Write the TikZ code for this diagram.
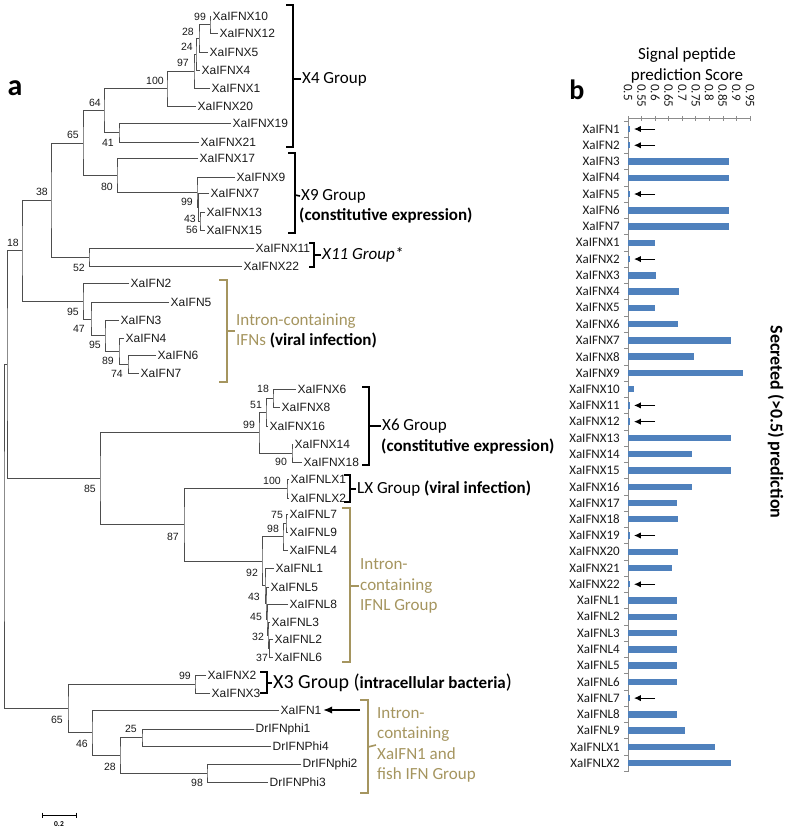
\documentclass[tikz,border=0pt]{standalone}
\usepackage{fontspec}
\setmainfont{Carlito}
\newfontfamily\treefont{Liberation Sans}
\usepackage{xcolor}
\usetikzlibrary{arrows.meta, positioning, calc}
\definecolor{ink}{HTML}{1A1A1A}
\definecolor{branch}{HTML}{4D4D4D}
\definecolor{olive}{HTML}{A5955F}
\definecolor{barblue}{HTML}{4F81BD}
\definecolor{axisgrey}{HTML}{8C8C8C}

\begin{document}
\begin{tikzpicture}[x=1pt, y=-1pt,
  tip/.style={anchor=west, inner sep=1.5pt, text=ink, font=\treefont\fontsize{12}{14}\selectfont},
  boot/.style={inner sep=0pt, text=ink, font=\treefont\fontsize{10.5}{12}\selectfont},
  br/.style={draw=branch, line width=0.9pt},
  brk/.style={draw=black, line width=1.6pt},
  gbrk/.style={draw=olive, line width=1.6pt},
  grp/.style={anchor=west, inner sep=1pt, align=left, font=\fontsize{17}{20.5}\selectfont},
  rowlab/.style={anchor=east, inner sep=1pt, text=ink, font=\fontsize{13}{14}\selectfont},
  >={Latex[length=2.0mm]}
]
\useasboundingbox (0,0) rectangle (787,831);

% ---- tree tips
\node[tip] (x10)  at (211,16)  {XaIFNX10};
\node[tip] (x12)  at (218,33)  {XaIFNX12};
\node[tip] (x5)   at (208,52)  {XaIFNX5};
\node[tip] (x4)   at (200,70)  {XaIFNX4};
\node[tip] (x1)   at (210,88)  {XaIFNX1};
\node[tip] (x20)  at (196,106) {XaIFNX20};
\node[tip] (x19)  at (231,123) {XaIFNX19};
\node[tip] (x21)  at (199,142) {XaIFNX21};
\node[tip] (x17)  at (198,158) {XaIFNX17};
\node[tip] (x9)   at (235,177) {XaIFNX9};
\node[tip] (x7)   at (209,193) {XaIFNX7};
\node[tip] (x13)  at (205,212) {XaIFNX13};
\node[tip] (x15)  at (205,230) {XaIFNX15};
\node[tip] (x11)  at (254,248) {XaIFNX11};
\node[tip] (x22)  at (242,266) {XaIFNX22};
\node[tip] (f2)   at (129,283) {XaIFN2};
\node[tip] (f5)   at (169,302) {XaIFN5};
\node[tip] (f3)   at (119,320) {XaIFN3};
\node[tip] (f4)   at (124,338) {XaIFN4};
\node[tip] (f6)   at (156,355) {XaIFN6};
\node[tip] (f7)   at (139,373) {XaIFN7};
\node[tip] (x6)   at (296,389) {XaIFNX6};
\node[tip] (x8)   at (280,407) {XaIFNX8};
\node[tip] (x16)  at (268,426) {XaIFNX16};
\node[tip] (x14)  at (293,444) {XaIFNX14};
\node[tip] (x18)  at (302,462) {XaIFNX18};
\node[tip] (lx1)  at (289,479) {XaIFNLX1};
\node[tip] (lx2)  at (289,498) {XaIFNLX2};
\node[tip] (l7)   at (288,514) {XaIFNL7};
\node[tip] (l9)   at (288,532) {XaIFNL9};
\node[tip] (l4)   at (288,550) {XaIFNL4};
\node[tip] (l1)   at (274,568) {XaIFNL1};
\node[tip] (l5)   at (269,587) {XaIFNL5};
\node[tip] (l8)   at (288,604) {XaIFNL8};
\node[tip] (l3)   at (270,622) {XaIFNL3};
\node[tip] (l2)   at (273,639) {XaIFNL2};
\node[tip] (l6)   at (273,657) {XaIFNL6};
\node[tip] (x2)   at (206,675) {XaIFNX2};
\node[tip] (x3)   at (210,693) {XaIFNX3};
\node[tip] (f1)   at (279,710) {XaIFN1};
\node[tip] (phi1) at (254,729) {DrIFNphi1};
\node[tip] (phi4) at (271,746) {DrIFNPhi4};
\node[tip] (phi2) at (301,764) {DrIFNphi2};
\node[tip] (phi3) at (268,782) {DrIFNPhi3};

% ---- inner nodes
\coordinate (n99a)  at (210,24.5);
\coordinate (n28)   at (199,38);
\coordinate (n24)   at (196,54);
\coordinate (n97)   at (194,71);
\coordinate (n100a) at (167,88.5);
\coordinate (n41)   at (119,132.5);
\coordinate (n64)   at (104,110.5);
\coordinate (n56)   at (200,221);
\coordinate (n43a)  at (198.5,207);
\coordinate (n99b)  at (197,192);
\coordinate (n80)   at (117,175);
\coordinate (n65a)  at (83,143);
\coordinate (n52)   at (89,257);
\coordinate (n38)   at (51,200);
\coordinate (n74)   at (128,364);
\coordinate (n89)   at (119,351);
\coordinate (n95b)  at (105,335.5);
\coordinate (n47)   at (91,319);
\coordinate (n95a)  at (83,301);
\coordinate (n18a)  at (22,250.5);
\coordinate (n18b)  at (273,398);
\coordinate (n51)   at (266,412);
\coordinate (n90)   at (292,453);
\coordinate (n99c)  at (259,432.5);
\coordinate (n100b) at (287,488.5);
\coordinate (n75)   at (286,523);
\coordinate (n98a)  at (283,536.5);
\coordinate (n37)   at (269.5,648);
\coordinate (n32)   at (268,635);
\coordinate (n45)   at (267,619.5);
\coordinate (n43b)  at (266,603);
\coordinate (n92)   at (265,585.5);
\coordinate (nlg)   at (262,561);
\coordinate (n87)   at (184,524.8);
\coordinate (n85)   at (100,478.6);
\coordinate (nup)   at (7,364.6);
\coordinate (n99d)  at (195,684);
\coordinate (n25)   at (142,737.5);
\coordinate (n98b)  at (207,773);
\coordinate (n28b)  at (120,755);
\coordinate (n46)   at (92,732.5);
\coordinate (n65b)  at (68,708.2);
\coordinate (root)  at (4,536.4);

% ---- branches
\draw[br] (x10.west) -| (n99a) |- (x12.west);
\draw[br] (n99a) -| (n28) |- (x5.west);
\draw[br] (n28) -| (n24) |- (x4.west);
\draw[br] (n24) -| (n97) |- (x1.west);
\draw[br] (n97) -| (n100a) |- (x20.west);
\draw[br] (x19.west) -| (n41) |- (x21.west);
\draw[br] (n100a) -| (n64) |- (n41);
\draw[br] (x13.west) -| (n56) |- (x15.west);
\draw[br] (x7.west) -| (n43a) |- (n56);
\draw[br] (x9.west) -| (n99b) |- (n43a);
\draw[br] (x17.west) -| (n80) |- (n99b);
\draw[br] (n64) -| (n65a) |- (n80);
\draw[br] (x11.west) -| (n52) |- (x22.west);
\draw[br] (n65a) -| (n38) |- (n52);
\draw[br] (f6.west) -| (n74) |- (f7.west);
\draw[br] (f4.west) -| (n89) |- (n74);
\draw[br] (f3.west) -| (n95b) |- (n89);
\draw[br] (f5.west) -| (n47) |- (n95b);
\draw[br] (f2.west) -| (n95a) |- (n47);
\draw[br] (n38) -| (n18a) |- (n95a);
\draw[br] (x6.west) -| (n18b) |- (x8.west);
\draw[br] (n18b) -| (n51) |- (x16.west);
\draw[br] (x14.west) -| (n90) |- (x18.west);
\draw[br] (n51) -| (n99c) |- (n90);
\draw[br] (lx1.west) -| (n100b) |- (lx2.west);
\draw[br] (l7.west) -| (n75) |- (l9.west);
\draw[br] (n75) -| (n98a) |- (l4.west);
\draw[br] (l2.west) -| (n37) |- (l6.west);
\draw[br] (l3.west) -| (n32) |- (n37);
\draw[br] (l8.west) -| (n45) |- (n32);
\draw[br] (l5.west) -| (n43b) |- (n45);
\draw[br] (l1.west) -| (n92) |- (n43b);
\draw[br] (n98a) -| (nlg) |- (n92);
\draw[br] (n100b) -| (n87) |- (nlg);
\draw[br] (n99c) -| (n85) |- (n87);
\draw[br] (n18a) -| (nup) |- (n85);
\draw[br] (x2.west) -| (n99d) |- (x3.west);
\draw[br] (phi1.west) -| (n25) |- (phi4.west);
\draw[br] (phi2.west) -| (n98b) |- (phi3.west);
\draw[br] (n25) -| (n28b) |- (n98b);
\draw[br] (f1.west) -| (n46) |- (n28b);
\draw[br] (n99d) -| (n65b) |- (n46);
\draw[br] (nup) -| (root) |- (n65b);

% ---- bootstrap values
\node[boot] (b1)  at (200,17)  {99};
\node[boot] (b2)  at (188,32)  {28};
\node[boot] (b3)  at (187,47)  {24};
\node[boot] (b4)  at (183,63)  {97};
\node[boot] (b5)  at (155,81)  {100};
\node[boot] (b6)  at (95,103)  {64};
\node[boot] (b7)  at (73,135)  {65};
\node[boot] (b8)  at (108,143) {41};
\node[boot] (b9)  at (107,187) {80};
\node[boot] (b10) at (187,202) {99};
\node[boot] (b11) at (190,219) {43};
\node[boot] (b12) at (192,230) {56};
\node[boot] (b13) at (42,192)  {38};
\node[boot] (b14) at (79,268)  {52};
\node[boot] (b15) at (13,243)  {18};
\node[boot] (b16) at (73,312)  {95};
\node[boot] (b17) at (79,329)  {47};
\node[boot] (b18) at (95,345)  {95};
\node[boot] (b19) at (108,361) {89};
\node[boot] (b20) at (117,374) {74};
\node[boot] (b21) at (263,389) {18};
\node[boot] (b22) at (256,405) {51};
\node[boot] (b23) at (249,425) {99};
\node[boot] (b24) at (281,462) {90};
\node[boot] (b25) at (90,489)  {85};
\node[boot] (b26) at (272,481) {100};
\node[boot] (b27) at (173,537) {87};
\node[boot] (b28) at (277,515) {75};
\node[boot] (b29) at (273,529) {98};
\node[boot] (b30) at (252,573) {92};
\node[boot] (b31) at (254,597) {43};
\node[boot] (b32) at (256,617) {45};
\node[boot] (b33) at (258,637) {32};
\node[boot] (b34) at (262,658) {37};
\node[boot] (b35) at (185,676) {99};
\node[boot] (b36) at (57,720)  {65};
\node[boot] (b37) at (82,744)  {46};
\node[boot] (b38) at (110,767) {28};
\node[boot] (b39) at (131,729) {25};
\node[boot] (b40) at (197,783) {98};

% ---- group brackets and labels
\node[grp] (g4) at (301,79) {X4 Group};
\draw[brk] (286,5) -- (293,5) -- (293,147) -- (286,147);
\draw[brk] (293,79) -- (g4.west);

\node[grp] (g9)  at (300,196) {X9 Group};
\node[grp] (g9b) at (298,216) {\textbf{(constitutive expression)}};
\draw[brk] (288,153) -- (295,153) -- (295,233) -- (288,233);
\draw[brk] (295,195) -- (g9.west);

\node[grp, font=\itshape\fontsize{17}{20.5}\selectfont] (g11) at (321,255) {X11 Group*};
\draw[brk, line width=1.2pt] (309,243) -- (314,243) -- (314,267) -- (309,267);
\draw[brk, line width=1.2pt] (314,255) -- (g11.west);

\node[grp] (gifn) at (235,331) {{\color{olive}Intron-containing}\\{\color{olive}IFNs} \textbf{(viral infection)}};
\draw[gbrk] (219,280) -- (227,280) -- (227,382) -- (219,382);
\draw[gbrk] (227,331) -- (gifn.west);

\node[grp] (g6)  at (381,426) {X6 Group};
\node[grp] (g6b) at (380,447) {\textbf{(constitutive expression)}};
\draw[brk] (362,387) -- (369,387) -- (369,465) -- (362,465);
\draw[brk] (369,426) -- (g6.west);

\node[grp] (glx) at (356,489) {LX Group \textbf{(viral infection)}};
\draw[brk] (344,475) -- (350,475) -- (350,502) -- (344,502);
\draw[brk] (350,489) -- (glx.west);

\node[grp, text=olive] (gl) at (359,586) {Intron-\\containing\\IFNL Group};
\draw[gbrk] (342,508) -- (350,508) -- (350,662) -- (342,662);
\draw[gbrk] (350,586) -- (gl.west);

\node[grp, font=\fontsize{20}{22}\selectfont] (g3) at (272,683) {X3 Group (\textbf{\fontsize{17}{20}\selectfont intracellular bacteria})};
\draw[brk] (260,672) -- (267,672) -- (267,693) -- (260,693);
\draw[brk] (267,683) -- (g3.west);

\node[grp, text=olive] (gf) at (376,745) {Intron-\\containing\\XaIFN1 and\\fish IFN Group};
\draw[gbrk] (360,700) -- (368,700) -- (368,793) -- (360,793);
\draw[gbrk] (368,747) -- (gf.west);

\coordinate (pt1) at (360,710);
\draw[->, line width=1.6pt, >={Latex[length=3.2mm, width=2.6mm]}] (pt1) -- (f1.east);

% ---- scale bar
\draw[line width=0.6pt] (42,815) -- (76,815);
\draw[line width=0.6pt] (42,812.5) -- (42,817.5);
\draw[line width=0.6pt] (76,812.5) -- (76,817.5);
\node[font=\bfseries\fontsize{7.5}{8}\selectfont] (sb) at (59,824) {0.2};

% ---- panel letters
\node[font=\bfseries\fontsize{30}{32}\selectfont] (pa) at (15,88) {a};
\node[font=\bfseries\fontsize{28}{30}\selectfont] (pb) at (577,90) {b};

% ---- bar chart
\node[font=\fontsize{17}{20}\selectfont] (t1) at (687,55) {Signal peptide};
\node[font=\fontsize{17}{20}\selectfont] (t2) at (687,76) {prediction Score};
\node[rotate=-90, font=\bfseries\fontsize{18}{20}\selectfont] (sec) at (776,422) {Secreted (>0.5) prediction};

\foreach \v [count=\k from 0] in {0.5,0.55,0.6,0.65,0.7,0.75,0.8,0.85,0.9,0.95}
  \node[rotate=-90, anchor=west, inner sep=0pt, text=ink, font=\fontsize{13}{14}\selectfont] (tk\k) at (628+13.55*\k,84) {\v};

\draw[axisgrey, line width=0.6pt] (628,118) -- (751,118);
\foreach \k in {0,...,9}
  \draw[axisgrey, line width=0.6pt] (628+13.55*\k,116) -- (628+13.55*\k,120.5);
\draw[axisgrey, line width=0.6pt] (628,118) -- (628,772);
\foreach \i in {0,...,40}
  \draw[axisgrey, line width=0.6pt] (624,120.9+16.26*\i) -- (628,120.9+16.26*\i);

\foreach \lab/\len [count=\i from 0] in {XaIFN1/1.2, XaIFN2/1.2, XaIFN3/101, XaIFN4/101, XaIFN5/1.2, XaIFN6/101, XaIFN7/101,
    XaIFNX1/27, XaIFNX2/1.2, XaIFNX3/28, XaIFNX4/51, XaIFNX5/27, XaIFNX6/50, XaIFNX7/103, XaIFNX8/66,
    XaIFNX9/115, XaIFNX10/6, XaIFNX11/1.2, XaIFNX12/2, XaIFNX13/103, XaIFNX14/64, XaIFNX15/103,
    XaIFNX16/64, XaIFNX17/49, XaIFNX18/50, XaIFNX19/1.2, XaIFNX20/50, XaIFNX21/44, XaIFNX22/1.2,
    XaIFNL1/49, XaIFNL2/49, XaIFNL3/49, XaIFNL4/49, XaIFNL5/49, XaIFNL6/49, XaIFNL7/1.2, XaIFNL8/49,
    XaIFNL9/57, XaIFNLX1/87, XaIFNLX2/103} {
  \node[rowlab] (row\i) at (621,129+16.26*\i) {\lab};
  \fill[barblue] (628.4,125.8+16.26*\i) rectangle (628.4+\len,132.2+16.26*\i);
}

\foreach \i in {0,1,4,8,17,18,25,28,35}
  \draw[->, line width=1pt, >={Latex[length=2.4mm, width=2.2mm]}] (655,129+16.26*\i) -- (634,129+16.26*\i);
\end{tikzpicture}
\end{document}
